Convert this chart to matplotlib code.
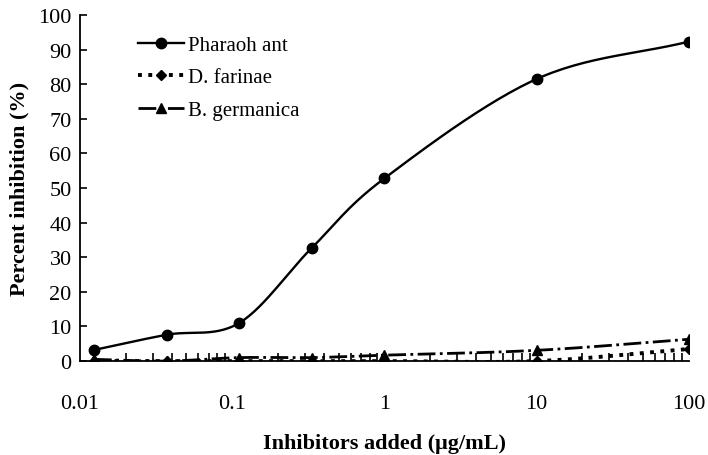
import numpy as np
import matplotlib.pyplot as plt
from matplotlib.ticker import FixedLocator, LogLocator, NullFormatter

plt.rcParams['font.family'] = ['Liberation Serif', 'DejaVu Serif']

# inhibitor concentrations (ug/mL) and percent inhibition
conc = [1/81, 1/27, 1/9, 1/3, 1, 10, 100]
pharaoh_ant = [3.2, 7.6, 11.0, 32.7, 52.8, 81.5, 92.3]
d_farinae = [0.0, 0.0, 0.0, 0.0, 0.0, 0.0, 3.5]
b_germanica = [0.5, 0.0, 1.0, 1.0, 1.7, 3.1, 6.3]
xticks = [0.01, 0.1, 1, 10, 100]
xticklabels = ['0.01', '0.1', '1', '10', '100']


def smooth(x, y, n=30):
    # Catmull-Rom curve through the points, in log-x space
    px = np.log10(x)
    py = np.asarray(y, dtype=float)
    P = np.column_stack([px, py])
    P = np.vstack([2*P[0] - P[1], P, 2*P[-1] - P[-2]])
    out = []
    t = np.linspace(0, 1, n)[:, None]
    for i in range(1, len(P) - 2):
        p0, p1, p2, p3 = P[i-1], P[i], P[i+1], P[i+2]
        seg = 0.5 * ((2*p1) + (-p0 + p2)*t + (2*p0 - 5*p1 + 4*p2 - p3)*t**2
                     + (-p0 + 3*p1 - 3*p2 + p3)*t**3)
        out.append(seg)
    out = np.vstack(out)
    return 10**out[:, 0], out[:, 1]


fig = plt.figure(figsize=(7.08, 4.56), dpi=100)
ax = fig.add_axes([0.113, 0.206, 0.86, 0.759])

series = [
    (pharaoh_ant, 'Pharaoh ant', '-', 'o', 7.5, 1.7),
    (d_farinae, 'D. farinae', ':', 'D', 5.5, 2.8),
    (b_germanica, 'B. germanica', '-.', '^', 6.5, 2.0),
]
for y, label, ls, mk, ms, lw in series:
    sx, sy = smooth(conc, y)
    ax.plot(sx, sy, color='black', linestyle=ls, linewidth=lw)
    ax.plot(conc, y, color='black', linestyle='none', marker=mk, markersize=ms)
    ax.plot([], [], color='black', linestyle=ls, linewidth=lw, marker=mk,
            markersize=ms, label=label)

ax.set_xscale('log')
ax.set_xlim(0.01, 100)
ax.set_ylim(0, 100)
ax.set_yticks(np.arange(0, 101, 10))
ax.xaxis.set_major_locator(FixedLocator(xticks))
ax.set_xticklabels(xticklabels)
ax.xaxis.set_minor_locator(LogLocator(base=10, subs=np.arange(2, 10)))
ax.xaxis.set_minor_formatter(NullFormatter())

for s in ['top', 'right']:
    ax.spines[s].set_visible(False)
for s in ['left', 'bottom']:
    ax.spines[s].set_linewidth(1.3)

ax.tick_params(axis='both', which='both', direction='in', width=1.2,
               labelsize=16)
ax.tick_params(axis='y', which='major', length=5, pad=6)
ax.tick_params(axis='x', which='major', length=0, pad=24)
ax.tick_params(axis='x', which='minor', length=6)

ax.set_xlabel('Inhibitors added (μg/mL)', fontsize=16, fontweight='bold',
              labelpad=14)
ax.set_ylabel('Percent inhibition (%)', fontsize=16, fontweight='bold',
              labelpad=6)

ax.legend(loc='upper left', bbox_to_anchor=(0.082, 0.965), frameon=False,
          fontsize=15, handlelength=2.2, handletextpad=0.2,
          labelspacing=0.62, borderaxespad=0.0)

fig.savefig('out.png', dpi=100)
